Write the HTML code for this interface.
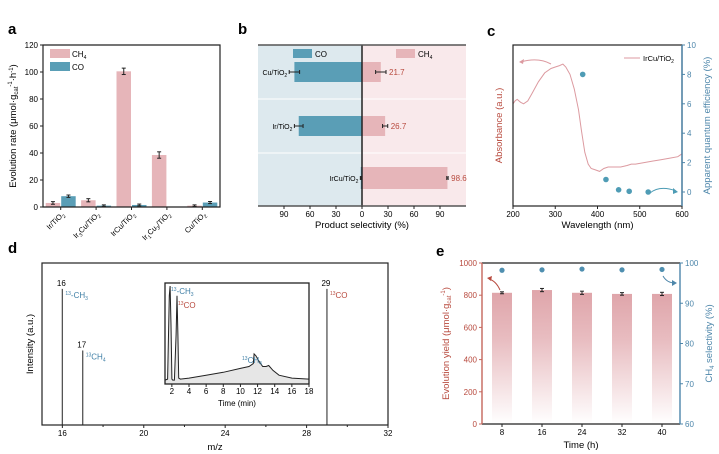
<!DOCTYPE html>
<html><head><meta charset="utf-8"><style>
html,body{margin:0;padding:0;background:#fff;}
svg{display:block;font-family:"Liberation Sans",Arial,sans-serif;}
</style></head><body>
<svg id="fig" width="719" height="454" viewBox="0 0 719 454" xmlns="http://www.w3.org/2000/svg">
<g id="pa"></g>
<g id="pb"></g>
<g id="pc"></g>
<g id="pd"></g>
<g id="pe"></g>
</svg>
<script>
// Panel a data
const aCats = ["Ir/TiO2","Ir3Cu/TiO2","IrCu/TiO2","Ir1Cu3/TiO2","Cu/TiO2"];
const aCH4 = [3, 5, 100.5, 38.5, 1];
const aCO = [8, 1, 1.5, 0, 3.3];
const aCH4err = [0.6, 0.8, 2, 2, 0.2];
const aCOerr = [0.5, 0.2, 0.3, 0, 0.4];
const aTicks = [0, 20, 40, 60, 80, 100, 120];
// Panel b data
const bCats = ["Cu/TiO2","Ir/TiO2","IrCu/TiO2"];
const bCO = [78, 73, 1.4];
const bCH4 = [21.7, 26.7, 98.6];
const bCOerr = [6, 5, 0.5];
const bCH4err = [6, 3, 0.8];
const bTicks = [-90, -60, -30, 0, 30, 60, 90];
// Panel c data
const cWl = [200,205,210,218,225,235,245,260,275,290,300,310,318,325,335,345,355,362,370,378,385,395,405,415,425,440,455,470,480,490,510,530,550,570,590,600];
const cAbs = [6.0,6.2,6.3,6.1,6.0,6.2,6.7,7.5,8.1,8.4,8.5,8.6,8.7,8.5,8.0,7.0,5.6,4.2,2.7,1.9,1.6,1.5,1.4,1.6,1.7,1.7,1.7,1.8,1.9,1.9,2.0,2.1,2.2,2.3,2.4,2.6];
const cAqeWl = [365, 420, 450, 475, 520];
const cAqe = [8.0, 0.85, 0.15, 0.05, 0.0];
const cXTicks = [200, 300, 400, 500, 600];
const cYTicks = [0, 2, 4, 6, 8, 10];
// Panel d data
const dPeaks = [16, 17, 29];
const dHeights = [0.84, 0.46, 0.84];
const dXTicks = [16, 20, 24, 28, 32];
const dInT = [1.2,1.5,1.7,1.8,1.9,2.0,2.1,2.3,2.5,2.6,2.7,2.8,3.0,4,6,8,10,11,11.5,11.6,11.8,12.2,12.6,13.0,13.3,13.8,14.5,16,18];
const dInI = [0.03,0.04,0.9,1.0,0.6,0.04,0.03,0.03,0.5,0.9,0.5,0.05,0.04,0.05,0.08,0.11,0.15,0.17,0.2,0.3,0.28,0.22,0.17,0.17,0.18,0.13,0.08,0.05,0.04];
const dInTicks = [2,4,6,8,10,12,14,16,18];
// Panel e data
const eTimes = [8, 16, 24, 32, 40];
const eYield = [815, 832, 815, 808, 808];
const eYieldErr = [6, 10, 10, 8, 10];
const eSel = [98.2, 98.3, 98.5, 98.3, 98.4];
const eLTicks = [0, 200, 400, 600, 800, 1000];
const eRTicks = [60, 70, 80, 90, 100];

const NS = "http://www.w3.org/2000/svg";
function mk(parent, tag, attrs, text){
  const e = document.createElementNS(NS, tag);
  for (const k in attrs) e.setAttribute(k, attrs[k]);
  if (text !== undefined) e.textContent = text;
  parent.appendChild(e);
  return e;
}
function lin(d0,d1,r0,r1){ return v => r0 + (v-d0)/(d1-d0)*(r1-r0); }
const PINK="#e6b5b9", BLUE="#5a9eb6", DRED="#b84a3e", DBLUE="#3f7fa6";
const FS=8;

// ---------- Panel a ----------
(function(){
  const g = document.getElementById("pa");
  const L=43,R=220,T=45,B=207;
  const y = lin(0,120,B,T);
  let t = mk(g,"text",{x:8,y:34,"font-size":15,"font-weight":"bold"},"a");
   
  const gw=(R-L)/5;
  aCats.forEach((c,i)=>{
    const cx = L + gw*(i+0.5);
    const bw = 14.5;
    let r = mk(g,"rect",{x:cx-bw-0.5,y:y(aCH4[i]),width:bw,height:B-y(aCH4[i]),fill:PINK});
     
    let r2 = mk(g,"rect",{x:cx+0.5,y:y(aCO[i]),width:bw,height:B-y(aCO[i]),fill:BLUE});
     
    [[cx-bw/2-0.5,aCH4[i],aCH4err[i]],[cx+0.5+bw/2,aCO[i],aCOerr[i]]].forEach(([ex,v,e])=>{
      if (v<=0) return;
      mk(g,"line",{x1:ex,x2:ex,y1:y(v+e)-0.5,y2:y(v-e)+0.5,stroke:"#222","stroke-width":1});
      mk(g,"line",{x1:ex-2,x2:ex+2,y1:y(v+e)-0.5,y2:y(v+e)-0.5,stroke:"#222","stroke-width":1});
      mk(g,"line",{x1:ex-2,x2:ex+2,y1:y(v-e)+0.5,y2:y(v-e)+0.5,stroke:"#222","stroke-width":1});
    });
    mk(g,"line",{x1:cx,x2:cx,y1:B,y2:B+3,stroke:"#222"});
    const lbl = {"Ir/TiO2":"Ir/TiO<tspan font-size='5' dy='2'>2</tspan>","Ir3Cu/TiO2":"Ir<tspan font-size='5' dy='2'>3</tspan><tspan dy='-2'>Cu/TiO</tspan><tspan font-size='5' dy='2'>2</tspan>","IrCu/TiO2":"IrCu/TiO<tspan font-size='5' dy='2'>2</tspan>","Ir1Cu3/TiO2":"Ir<tspan font-size='5' dy='2'>1</tspan><tspan dy='-2'>Cu</tspan><tspan font-size='5' dy='2'>3</tspan><tspan dy='-2'>/TiO</tspan><tspan font-size='5' dy='2'>2</tspan>","Cu/TiO2":"Cu/TiO<tspan font-size='5' dy='2'>2</tspan>"}[c];
    const tx = mk(g,"text",{x:0,y:0,"font-size":7.5,"text-anchor":"end",transform:`translate(${cx+4},${B+8}) rotate(-45)`});
    tx.innerHTML = lbl;
     
  });
  aTicks.forEach(v=>{
    mk(g,"line",{x1:L-3,x2:L,y1:y(v),y2:y(v),stroke:"#222"});
    const tt=mk(g,"text",{x:L-5,y:y(v)+3,"font-size":FS,"text-anchor":"end"},v);
     
  });
  mk(g,"path",{d:`M${L},${T}H${R}V${B}H${L}Z`,fill:"none",stroke:"#222","stroke-width":1.2});
  const yt = mk(g,"text",{x:0,y:0,"font-size":9.5,"text-anchor":"middle",transform:`translate(16,${(T+B)/2}) rotate(-90)`});
  yt.innerHTML = "Evolution rate (μmol·g<tspan font-size='6' dy='2'>cat</tspan><tspan font-size='6' dy='-6'>-1</tspan><tspan dy='4'>·h</tspan><tspan font-size='6' dy='-3'>-1</tspan><tspan dy='3'>)</tspan>";
   
  let s=mk(g,"rect",{x:50,y:49,width:20,height:9,fill:PINK});  
  let lt=mk(g,"text",{x:72,y:57,"font-size":FS}); lt.innerHTML="CH<tspan font-size='5' dy='2'>4</tspan>";
   
  s=mk(g,"rect",{x:50,y:62,width:20,height:9,fill:BLUE});  
  lt=mk(g,"text",{x:72,y:70,"font-size":FS},"CO");  
})();

// ---------- Panel b ----------
(function(){
  const g = document.getElementById("pb");
  const L=258,R=466,T=45,B=206;
  const x = lin(0,90,362,440);
  let t = mk(g,"text",{x:238,y:34,"font-size":15,"font-weight":"bold"},"b");
   
  mk(g,"rect",{x:L,y:T,width:362-L,height:B-T,fill:"#dde9ee"});
  mk(g,"rect",{x:362,y:T,width:R-362,height:B-T,fill:"#f9e9eb"});
  [99,153].forEach(yy=>mk(g,"line",{x1:L,x2:R,y1:yy,y2:yy,stroke:"#fff","stroke-width":1}));
  const rowsY=[72,126,178], bh=[20,20,22];
  bCats.forEach((c,i)=>{
    const cy=rowsY[i], h=bh[i];
    let r=mk(g,"rect",{x:x(-bCO[i]),y:cy-h/2,width:x(0)-x(-bCO[i]),height:h,fill:BLUE});
     
    r=mk(g,"rect",{x:x(0),y:cy-h/2,width:x(bCH4[i])-x(0),height:h,fill:PINK});
     
    [[-bCO[i],bCOerr[i]],[bCH4[i],bCH4err[i]]].forEach(([v,e])=>{
      mk(g,"line",{x1:x(v-e),x2:x(v+e),y1:cy,y2:cy,stroke:"#222","stroke-width":1});
      mk(g,"line",{x1:x(v-e),x2:x(v-e),y1:cy-2,y2:cy+2,stroke:"#222"});
      mk(g,"line",{x1:x(v+e),x2:x(v+e),y1:cy-2,y2:cy+2,stroke:"#222"});
    });
    const vt=mk(g,"text",{x:x(bCH4[i]+bCH4err[i])+3,y:cy+3,"font-size":8,fill:DRED},bCH4[i]);
     
    const ct=mk(g,"text",{x:x(-bCO[i]-bCOerr[i])-2,y:cy+3,"font-size":7,"text-anchor":"end"});
    ct.innerHTML=c.replace("TiO2","TiO<tspan font-size='5' dy='2'>2</tspan>");
     
  });
  mk(g,"line",{x1:362,x2:362,y1:T,y2:B,stroke:"#222","stroke-width":1.5});
  mk(g,"line",{x1:L,x2:R,y1:T,y2:T,stroke:"#555","stroke-width":1.5});
  mk(g,"line",{x1:L,x2:R,y1:B,y2:B,stroke:"#555","stroke-width":1.5});
  bTicks.forEach(v=>{
    mk(g,"line",{x1:x(v),x2:x(v),y1:B,y2:B+3,stroke:"#222"});
    const tt=mk(g,"text",{x:x(v),y:B+11,"font-size":FS,"text-anchor":"middle"},Math.abs(v));
     
  });
  let xt=mk(g,"text",{x:362,y:228,"font-size":9.5,"text-anchor":"middle"},"Product selectivity (%)");
   
  let s=mk(g,"rect",{x:293,y:49,width:19,height:9,fill:BLUE});  
  let lt=mk(g,"text",{x:315,y:57,"font-size":FS},"CO");  
  s=mk(g,"rect",{x:396,y:49,width:19,height:9,fill:PINK});  
  lt=mk(g,"text",{x:418,y:57,"font-size":FS}); lt.innerHTML="CH<tspan font-size='5' dy='2'>4</tspan>";
   
})();

// ---------- Panel c ----------
(function(){
  const g = document.getElementById("pc");
  const L=513,R=682,T=45,B=206;
  const x = lin(200,600,L,R), y = lin(0,10,192,T);
  let t = mk(g,"text",{x:487,y:36,"font-size":15,"font-weight":"bold"},"c");
   
  const d = cWl.map((w,i)=>(i?"L":"M")+x(w).toFixed(1)+","+y(cAbs[i]).toFixed(1)).join("");
  let p=mk(g,"path",{d:d,fill:"none",stroke:"#dc9aa0","stroke-width":1});
   
  cAqeWl.forEach((w,i)=>{
    const c=mk(g,"circle",{cx:x(w),cy:y(cAqe[i]),r:2.8,fill:"#4f9cb5"});
     
  });
  mk(g,"rect",{x:L,y:T,width:R-L,height:B-T,fill:"none",stroke:"#222","stroke-width":1.2});
  mk(g,"line",{x1:R,x2:R,y1:T,y2:B,stroke:"#4d86aa","stroke-width":1.4});
  cXTicks.forEach(v=>{
    mk(g,"line",{x1:x(v),x2:x(v),y1:B,y2:B+3,stroke:"#222"});
    const tt=mk(g,"text",{x:x(v),y:B+11,"font-size":FS,"text-anchor":"middle"},v);
     
  });
  cYTicks.forEach(v=>{
    mk(g,"line",{x1:R,x2:R+3,y1:y(v),y2:y(v),stroke:"#4d86aa"});
    const tt=mk(g,"text",{x:R+5,y:y(v)+3,"font-size":FS,fill:"#4d86aa"},v);
     
  });
  let xt=mk(g,"text",{x:(L+R)/2,y:228,"font-size":9.5,"text-anchor":"middle"},"Wavelength (nm)");
   
  let yt=mk(g,"text",{x:0,y:0,"font-size":9.5,"text-anchor":"middle",fill:DRED,transform:`translate(502,${(T+B)/2}) rotate(-90)`},"Absorbance (a.u.)");
   
  yt=mk(g,"text",{x:0,y:0,"font-size":9.5,"text-anchor":"middle",fill:"#4d86aa",transform:`translate(710,${(T+B)/2}) rotate(-90)`},"Apparent quantum efficiency (%)");
   
  mk(g,"line",{x1:624,x2:640,y1:58,y2:58,stroke:"#dc9aa0"});
  let lt=mk(g,"text",{x:643,y:61,"font-size":7.5}); lt.innerHTML="IrCu/TiO<tspan font-size='5' dy='2'>2</tspan>";
   
  mk(g,"path",{d:"M551,64 Q538,57 521,62",fill:"none",stroke:"#dc9aa0","stroke-width":1});
  mk(g,"path",{d:"M519,62 L524,59 L523,64Z",fill:"#dc9aa0"});
  mk(g,"path",{d:"M650,193 Q660,185 676,191",fill:"none",stroke:"#4d9cb5","stroke-width":1});
  mk(g,"path",{d:"M678,192 L673,188 L673,194Z",fill:"#4d9cb5"});
})();

// ---------- Panel d ----------
(function(){
  const g = document.getElementById("pd");
  const L=42,R=388,T=263,B=425;
  const x = lin(15,32,L,R), y = lin(0,1,B,T);
  let t = mk(g,"text",{x:8,y:253,"font-size":15,"font-weight":"bold"},"d");
   
  const cols=["#3f7fa6","#3f7fa6",DRED];
  const labs=["<tspan font-size='5' dy='-3'>13</tspan><tspan dy='3'>-CH</tspan><tspan font-size='5' dy='2'>3</tspan>","<tspan font-size='5' dy='-3'>13</tspan><tspan dy='3'>CH</tspan><tspan font-size='5' dy='2'>4</tspan>","<tspan font-size='5' dy='-3'>13</tspan><tspan dy='3'>CO</tspan>"];
  dPeaks.forEach((m,i)=>{
    const l=mk(g,"line",{x1:x(m),x2:x(m),y1:B,y2:y(dHeights[i]),stroke:"#555","stroke-width":1.3});
     
    const n=mk(g,"text",{x:x(m)-1,y:y(dHeights[i])-3,"font-size":FS,"text-anchor":"middle"},m);
     
    const s=mk(g,"text",{x:x(m)+3,y:y(dHeights[i])+9,"font-size":8,fill:cols[i]});
    s.innerHTML=labs[i];
     
  });
  mk(g,"rect",{x:L,y:T,width:R-L,height:B-T,fill:"none",stroke:"#222","stroke-width":1.2});
  for(let v=16;v<=32;v+=2){ mk(g,"line",{x1:x(v),x2:x(v),y1:B,y2:B+(v%4==0?3:2),stroke:"#222"}); }
  dXTicks.forEach(v=>{
    const tt=mk(g,"text",{x:x(v),y:B+11,"font-size":FS,"text-anchor":"middle"},v);
     
  });
  let xt=mk(g,"text",{x:(L+R)/2,y:450,"font-size":9.5,"text-anchor":"middle"},"m/z");
   
  let yt=mk(g,"text",{x:0,y:0,"font-size":9.5,"text-anchor":"middle",transform:`translate(33,${(T+B)/2}) rotate(-90)`},"Intensity (a.u.)");
   
  // inset
  const iL=165,iR=309,iT=283,iB=384;
  const ix=lin(1.2,18,iL,iR), iy=lin(0,1,iB-1,iT+3);
  const pts=dInT.map((v,i)=>ix(v).toFixed(1)+","+iy(dInI[i]).toFixed(1));
  let area=mk(g,"path",{d:"M"+ix(dInT[0])+","+iB+"L"+pts.join("L")+"L"+ix(dInT[dInT.length-1])+","+iB+"Z",fill:"#e6e6e6",stroke:"none"});
   
  let il=mk(g,"path",{d:"M"+pts.join("L"),fill:"none",stroke:"#222","stroke-width":1});
   
  let ib=mk(g,"rect",{x:iL,y:iT,width:iR-iL,height:iB-iT,fill:"none",stroke:"#222","stroke-width":1.3});
   
  dInTicks.forEach(v=>{
    mk(g,"line",{x1:ix(v),x2:ix(v),y1:iB,y2:iB+3,stroke:"#222"});
    const tt=mk(g,"text",{x:ix(v),y:iB+10,"font-size":FS,"text-anchor":"middle"},v);
     
  });
  let it=mk(g,"text",{x:(iL+iR)/2,y:406,"font-size":8,"text-anchor":"middle"},"Time (min)");
   
  let a1=mk(g,"text",{x:171,y:294,"font-size":8,fill:"#3f7fa6"}); a1.innerHTML=labs[0];
   
  let a2=mk(g,"text",{x:178,y:308,"font-size":8,fill:DRED}); a2.innerHTML=labs[2];
   
  let a3=mk(g,"text",{x:242,y:363,"font-size":8,fill:"#3f7fa6"}); a3.innerHTML=labs[1];
   
})();

// ---------- Panel e ----------
(function(){
  const g = document.getElementById("pe");
  const L=482,R=680,T=263,B=424;
  const y = lin(0,1000,B,T), yr = lin(60,100,B,T);
  let t = mk(g,"text",{x:436,y:256,"font-size":15,"font-weight":"bold"},"e");
   
  const defs=mk(g,"defs",{});
  const lg=mk(defs,"linearGradient",{id:"eg",x1:0,y1:0,x2:0,y2:1});
  mk(lg,"stop",{offset:"0","stop-color":"#dfa5aa"});
  mk(lg,"stop",{offset:"0.35","stop-color":"#e8bcc0"});
  mk(lg,"stop",{offset:"1","stop-color":"#ffffff"});
  eTimes.forEach((tm,i)=>{
    const cx=L+(tm-8)/32*160+20;
    const r=mk(g,"rect",{x:cx-10,y:y(eYield[i]),width:20,height:B-y(eYield[i]),fill:"url(#eg)"});
     
    const v=eYield[i],e=eYieldErr[i];
    mk(g,"line",{x1:cx,x2:cx,y1:y(v+e),y2:y(v-e),stroke:"#222"});
    mk(g,"line",{x1:cx-2,x2:cx+2,y1:y(v+e),y2:y(v+e),stroke:"#222"});
    mk(g,"line",{x1:cx-2,x2:cx+2,y1:y(v-e),y2:y(v-e),stroke:"#222"});
    const c=mk(g,"circle",{cx:cx,cy:yr(eSel[i]),r:2.6,fill:"#4f8fb0"});
     
    mk(g,"line",{x1:cx,x2:cx,y1:B,y2:B+3,stroke:"#222"});
    const tt=mk(g,"text",{x:cx,y:B+11,"font-size":FS,"text-anchor":"middle"},tm);
     
  });
  mk(g,"line",{x1:L,x2:R,y1:T,y2:T,stroke:"#222","stroke-width":1.2});
  mk(g,"line",{x1:L,x2:R,y1:B,y2:B,stroke:"#222","stroke-width":1.2});
  mk(g,"line",{x1:L,x2:L,y1:T,y2:B,stroke:"#c4665c","stroke-width":1.4});
  mk(g,"line",{x1:R,x2:R,y1:T,y2:B,stroke:"#4d86aa","stroke-width":1.4});
  eLTicks.forEach(v=>{
    mk(g,"line",{x1:L-3,x2:L,y1:y(v),y2:y(v),stroke:"#c4665c"});
    const tt=mk(g,"text",{x:L-5,y:y(v)+3,"font-size":FS,"text-anchor":"end",fill:DRED},v);
     
  });
  eRTicks.forEach(v=>{
    mk(g,"line",{x1:R,x2:R+3,y1:yr(v),y2:yr(v),stroke:"#4d86aa"});
    const tt=mk(g,"text",{x:R+5,y:yr(v)+3,"font-size":FS,fill:"#4d86aa"},v);
     
  });
  let xt=mk(g,"text",{x:(L+R)/2,y:448,"font-size":9.5,"text-anchor":"middle"},"Time (h)");
   
  let yt=mk(g,"text",{x:0,y:0,"font-size":9.5,"text-anchor":"middle",fill:DRED,transform:`translate(449,${(T+B)/2}) rotate(-90)`});
  yt.innerHTML="Evolution yield (μmol·g<tspan font-size='6' dy='2'>cat</tspan><tspan font-size='6' dy='-6'>-1</tspan><tspan dy='4'>)</tspan>";
   
  yt=mk(g,"text",{x:0,y:0,"font-size":9.5,"text-anchor":"middle",fill:"#4d86aa",transform:`translate(712,${(T+B)/2}) rotate(-90)`});
  yt.innerHTML="CH<tspan font-size='6' dy='2'>4</tspan><tspan dy='-2'> selectivity (%)</tspan>";
   
  mk(g,"path",{d:"M500,290 Q496,281 489,279",fill:"none",stroke:DRED,"stroke-width":1});
  mk(g,"path",{d:"M487,278 L492,276 L491,281Z",fill:DRED});
  mk(g,"path",{d:"M663,276 Q667,283 675,283",fill:"none",stroke:"#4d86aa","stroke-width":1});
  mk(g,"path",{d:"M677,283 L672,280 L672,286Z",fill:"#4d86aa"});
})();
</script>
</body></html>
